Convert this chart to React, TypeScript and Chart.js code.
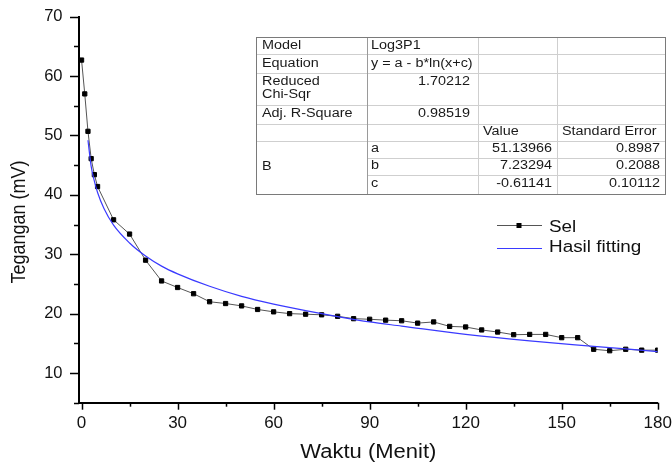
import React, { useEffect, useRef } from 'react';
import { Chart, registerables } from 'chart.js';

Chart.register(...registerables);

// ---- data ----
const waktu = [0, 1, 2, 3, 4, 5, 10, 15, 20, 25, 30, 35, 40, 45, 50, 55, 60, 65, 70, 75, 80, 85, 90, 95, 100, 105, 110, 115, 120, 125, 130, 135, 140, 145, 150, 155, 160, 165, 170, 175, 180];
const tegangan = [62.7, 57.0, 50.7, 46.1, 43.4, 41.4, 35.8, 33.4, 29.0, 25.5, 24.4, 23.35, 22.0, 21.7, 21.3, 20.7, 20.3, 20.0, 19.9, 19.8, 19.55, 19.15, 19.05, 18.9, 18.8, 18.4, 18.6, 17.85, 17.75, 17.25, 16.9, 16.45, 16.5, 16.5, 15.95, 15.95, 14.0, 13.75, 14.0, 13.85, 13.85];

const fitX = [2, 3, 4, 5, 7, 10, 15, 20, 25, 30, 40, 50, 60, 70, 80, 90, 100, 120, 140, 160, 180];
const fitY = [49.2, 44.8, 42.3, 40.4, 37.7, 34.9, 31.9, 29.7, 28.0, 26.7, 24.6, 22.9, 21.6, 20.5, 19.5, 18.6, 17.9, 16.5, 15.4, 14.5, 13.6];

const seriesNames = ['Sel', 'Hasil fitting'];
const xTitle = 'Waktu (Menit)';
const yTitle = 'Tegangan (mV)';

const tableLabels = ['Model', 'Equation', 'Reduced', 'Chi-Sqr', 'Adj. R-Square', 'B'];
const tableModel = 'Log3P1';
const tableEquation = 'y = a - b*ln(x+c)';
const tableChiSqr = '1.70212';
const tableAdjR2 = '0.98519';
const tableHeaders = ['Value', 'Standard Error'];
const paramNames = ['a', 'b', 'c'];
const paramValues = ['51.13966', '7.23294', '-0.61141'];
const paramErrors = ['0.8987', '0.2088', '0.10112'];

const FONT = '"Liberation Sans", Arial, sans-serif';

const colX = [256, 367, 478, 557, 665];
const rowY = [37, 54, 72.5, 105, 123.5, 140.5, 157.5, 174.5, 194];

function txt(ctx: CanvasRenderingContext2D, s: string, x: number, y: number, align: CanvasTextAlign, size: number, sx: number, color = '#1a1a1a') {
  ctx.save();
  ctx.translate(x, y);
  ctx.scale(sx, 1);
  ctx.font = `${size}px ${FONT}`;
  ctx.fillStyle = color;
  ctx.textAlign = align;
  ctx.textBaseline = 'middle';
  ctx.fillText(s, 0, 0);
  ctx.restore();
}

const decorPlugin = {
  id: 'decor',
  afterDraw(chart: any) {
    const ctx: CanvasRenderingContext2D = chart.ctx;
    const xs = chart.scales.x;
    const ys = chart.scales.y;
    const area = chart.chartArea;

    // tick marks
    ctx.save();
    ctx.strokeStyle = '#000';
    ctx.lineWidth = 1.5;
    for (const t of xs.ticks) {
      const px = Math.round(xs.getPixelForValue(t.value)) + 0.5;
      const len = t.value % 30 === 0 ? 7 : 4;
      ctx.beginPath();
      ctx.moveTo(px, area.bottom);
      ctx.lineTo(px, area.bottom + len);
      ctx.stroke();
    }
    for (const t of ys.ticks) {
      const py = Math.round(ys.getPixelForValue(t.value)) + 0.5;
      const len = t.value % 10 === 0 ? 9 : 5;
      ctx.beginPath();
      ctx.moveTo(area.left, py);
      ctx.lineTo(area.left - len, py);
      ctx.stroke();
    }
    ctx.restore();

    // axis titles
    txt(ctx, xTitle, (area.left + area.right) / 2, 452, 'center', 20, 1.1, '#111');
    ctx.save();
    ctx.translate(19, 222);
    ctx.rotate(-Math.PI / 2);
    ctx.scale(1, 1.15);
    ctx.font = `18px ${FONT}`;
    ctx.fillStyle = '#111';
    ctx.textAlign = 'center';
    ctx.textBaseline = 'middle';
    ctx.fillText(yTitle, 0, 0);
    ctx.restore();

    // legend
    ctx.save();
    ctx.strokeStyle = '#555';
    ctx.lineWidth = 1;
    ctx.beginPath();
    ctx.moveTo(497, 225.5);
    ctx.lineTo(542, 225.5);
    ctx.stroke();
    ctx.fillStyle = '#000';
    ctx.fillRect(516.5, 223, 5, 5);
    ctx.strokeStyle = '#3a3aff';
    ctx.lineWidth = 1.2;
    ctx.beginPath();
    ctx.moveTo(497, 248.5);
    ctx.lineTo(542, 248.5);
    ctx.stroke();
    ctx.restore();
    txt(ctx, seriesNames[0], 549, 227.5, 'left', 16, 1.18, '#111');
    txt(ctx, seriesNames[1], 549, 247.5, 'left', 16, 1.18, '#111');

    // table
    ctx.save();
    ctx.fillStyle = '#fff';
    ctx.fillRect(colX[0], rowY[0], colX[4] - colX[0], rowY[8] - rowY[0]);
    ctx.strokeStyle = '#cfcfcf';
    ctx.lineWidth = 1;
    for (let i = 1; i < 8; i++) {
      const y = Math.round(rowY[i]) + 0.5;
      const startX = i >= 6 ? colX[1] : colX[0];
      ctx.beginPath();
      ctx.moveTo(startX, y);
      ctx.lineTo(colX[4], y);
      ctx.stroke();
    }
    for (const i of [2, 3]) {
      const x = colX[i] + 0.5;
      ctx.beginPath();
      ctx.moveTo(x, rowY[0]);
      ctx.lineTo(x, rowY[8]);
      ctx.stroke();
    }
    ctx.strokeStyle = '#9a9a9a';
    ctx.beginPath();
    ctx.moveTo(colX[1] + 0.5, rowY[0]);
    ctx.lineTo(colX[1] + 0.5, rowY[8]);
    ctx.stroke();
    ctx.strokeStyle = '#7a7a7a';
    ctx.strokeRect(colX[0] + 0.5, rowY[0] + 0.5, colX[4] - colX[0], rowY[8] - rowY[0]);
    ctx.restore();

    const fs = 12;
    const sx = 1.2;
    const c0 = colX[0] + 6;
    const c1 = colX[1] + 4;
    const c1r = colX[2] - 8;
    const c2 = colX[2] + 5;
    const c2r = colX[3] - 5;
    const c3 = colX[3] + 5;
    const c3r = colX[4] - 5;
    txt(ctx, tableLabels[0], c0, 45.5, 'left', fs, sx);
    txt(ctx, tableModel, c1, 45.5, 'left', fs, sx);
    txt(ctx, tableLabels[1], c0, 63.5, 'left', fs, sx);
    txt(ctx, tableEquation, c1, 63.5, 'left', fs, sx);
    txt(ctx, tableLabels[2], c0, 81.5, 'left', fs, sx);
    txt(ctx, tableLabels[3], c0, 94.5, 'left', fs, sx);
    txt(ctx, tableChiSqr, c1r, 81.5, 'right', fs, sx);
    txt(ctx, tableLabels[4], c0, 114, 'left', fs, sx);
    txt(ctx, tableAdjR2, c1r, 114, 'right', fs, sx);
    txt(ctx, tableHeaders[0], c2, 131.5, 'left', fs, sx);
    txt(ctx, tableHeaders[1], c3, 131.5, 'left', fs, sx);
    txt(ctx, tableLabels[5], c0, 166.5, 'left', fs, sx);
    const rowsC = [149, 166, 184];
    for (let i = 0; i < 3; i++) {
      txt(ctx, paramNames[i], c1, rowsC[i], 'left', fs, sx);
      txt(ctx, paramValues[i], c2r, rowsC[i], 'right', fs, sx);
      txt(ctx, paramErrors[i], c3r, rowsC[i], 'right', fs, sx);
    }
  },
};

export default function App() {
  const ref = useRef<HTMLCanvasElement>(null);
  useEffect(() => {
    const canvas = ref.current!;
    const chart = new Chart(canvas, {
      type: 'line',
      data: {
        datasets: [
          {
            label: seriesNames[1],
            data: fitX.map((x, i) => ({ x, y: fitY[i] })),
            borderColor: '#3a3aff',
            borderWidth: 1.2,
            pointRadius: 0,
            cubicInterpolationMode: 'monotone',
            fill: false,
            order: 1,
          },
          {
            label: seriesNames[0],
            data: waktu.map((x, i) => ({ x, y: tegangan[i] })),
            borderColor: '#555',
            borderWidth: 1,
            pointStyle: 'rect',
            pointRadius: 3,
            pointBorderWidth: 1,
            pointBackgroundColor: '#000',
            pointBorderColor: '#000',
            tension: 0,
            fill: false,
            order: 2,
          },
        ],
      },
      options: {
        responsive: false,
        animation: false,
        layout: { padding: { top: 16.7, right: 14.3, left: 0, bottom: 0 } },
        plugins: { legend: { display: false }, tooltip: { enabled: false } },
        scales: {
          x: {
            type: 'linear',
            min: -0.8,
            max: 180,
            grid: { display: false, drawTicks: false },
            border: { display: true, color: '#000', width: 2 },
            ticks: {
              stepSize: 15,
              includeBounds: false,
              autoSkip: false,
              maxRotation: 0,
              padding: 10,
              color: '#111',
              font: { family: FONT, size: 17 },
              callback: (v: any) => (Number(v) % 30 === 0 ? String(v) : ''),
            },
            afterFit: (s: any) => {
              s.height = 61.3;
              s.paddingLeft = 0;
              s.paddingRight = 0;
            },
          },
          y: {
            type: 'linear',
            min: 5,
            max: 70,
            grid: { display: false, drawTicks: false },
            border: { display: true, color: '#000', width: 2 },
            ticks: {
              stepSize: 5,
              includeBounds: false,
              autoSkip: false,
              padding: 16.5,
              color: '#111',
              font: { family: FONT, size: 16.5 },
              callback: (v: any) => (Number(v) % 10 === 0 ? String(v) : ''),
            },
            afterFit: (s: any) => {
              s.width = 79;
              s.paddingTop = 0;
              s.paddingBottom = 0;
            },
          },
        },
      },
      plugins: [decorPlugin],
    } as any);
    return () => chart.destroy();
  }, []);
  return (
    <div style={{ position: 'fixed', left: 0, top: 0, width: 672, height: 464, background: '#fff' }}>
      <canvas ref={ref} width={672} height={464} style={{ width: 672, height: 464, display: 'block' }} />
    </div>
  );
}
